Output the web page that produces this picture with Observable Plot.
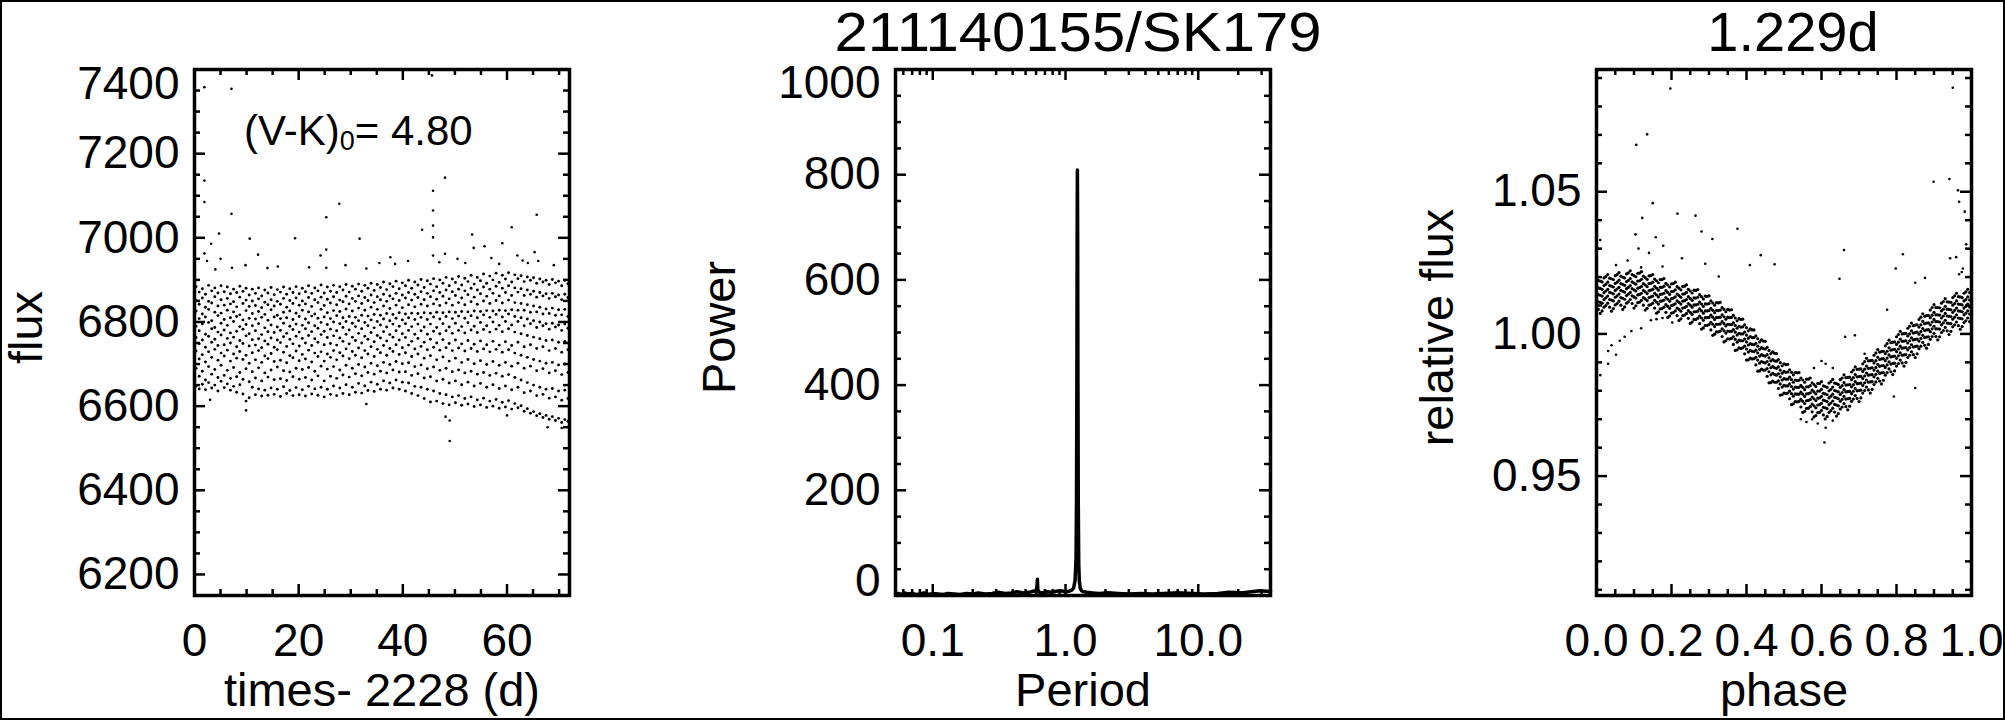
<!DOCTYPE html>
<html><head><meta charset="utf-8">
<script src="https://cdn.jsdelivr.net/npm/d3@7"></script>
<script src="https://cdn.jsdelivr.net/npm/@observablehq/plot@0.6"></script>
<style>
body{margin:0;background:#fff;}
#wrap{position:relative;width:2005px;height:720px;overflow:hidden;background:#fff;}
#wrap svg{position:absolute;top:0;overflow:visible;background:transparent;}
#border{position:absolute;left:0;top:0;width:2005px;height:720px;box-sizing:border-box;border:2px solid #000;pointer-events:none;z-index:5;}
</style></head><body>
<div id="wrap"><div id="border"></div></div>
<script>
// ---------------- DATA ----------------
const title2 = "211140155/SK179";
const title3 = "1.229d";
const vkLabel = "(V-K)0= 4.80";

// Panel 1: light curve (flux vs time - 2228 d); the dense band, read as streak columns
const p1ColTime = [0.3,0.9,1.5,2.1,2.7,3.3,3.9,4.5,5.1,5.7,6.3,6.9,7.5,8.1,8.7,9.3,9.9,10.5,11.1,11.7,12.3,12.9,13.5,14.1,14.7,15.3,15.9,16.5,17.1,17.7,18.3,18.9,19.5,20.1,20.7,21.3,21.9,22.5,23.1,23.7,24.3,24.9,25.5,26.1,26.7,27.3,27.9,28.5,29.1,29.7,30.3,30.9,31.5,32.1,32.7,33.3,33.9,34.5,35.1,35.7,36.3,36.9,37.5,38.1,38.7,39.3,39.9,40.5,41.1,41.7,42.3,42.9,43.5,44.1,44.7,45.3,45.9,46.5,47.1,47.7,48.3,48.9,49.5,50.1,50.7,51.3,51.9,52.5,53.1,53.7,54.3,54.9,55.5,56.1,56.7,57.3,57.9,58.5,59.1,59.7,60.3,60.9,61.5,62.1,62.7,63.3,63.9,64.5,65.1,65.7,66.3,66.9,67.5,68.1,68.7,69.3,69.9,70.5,71.1,71.7];
const p1ColFlux = [
[6884,6851,6826,6790,6763,6731,6690,6648],[6871,6842,6808,6779,6748,6712,6671,6641],[6879,6857,6819,6795,6757,6722,6683,6652],[6866,6835,6812,6771,6740,6705,6662,6639],[6887,6849,6830,6799,6766,6729,6694,6656],[6874,6845,6803,6784,6752,6716,6676,6643],[6881,6860,6823,6787,6759,6735,6687,6650],[6869,6838,6815,6776,6744,6709,6668,6636],[6886,6853,6821,6797,6769,6726,6697,6659],[6872,6840,6806,6781,6746,6719,6673,6644],
[6883,6856,6828,6792,6761,6733,6685,6653],[6867,6843,6810,6774,6750,6707,6666,6638],[6878,6848,6824,6801,6764,6724,6692,6647],[6870,6836,6813,6778,6741,6714,6670,6633],[6885,6859,6817,6789,6756,6730,6680,6651],[6873,6844,6805,6783,6749,6711,6664,6629],[6880,6852,6827,6794,6767,6721,6689,6612],[6864,6837,6809,6772,6743,6702,6658,6620],[6878,6850,6820,6791,6758,6727,6682,6645],[6868,6839,6807,6779,6745,6710,6667,6627],
[6881,6855,6825,6796,6760,6732,6691,6641],[6862,6834,6811,6770,6739,6704,6660,6624],[6876,6847,6818,6786,6755,6719,6679,6638],[6869,6841,6804,6777,6747,6713,6669,6626],[6882,6853,6829,6793,6762,6725,6686,6643],[6865,6838,6812,6775,6740,6706,6663,6628],[6877,6849,6816,6788,6757,6734,6693,6640],[6871,6842,6808,6780,6751,6709,6665,6623],[6883,6856,6823,6797,6765,6728,6684,6646],[6866,6835,6810,6773,6742,6703,6661,6630],
[6879,6851,6826,6790,6759,6720,6681,6637],[6870,6844,6806,6782,6748,6715,6670,6625],[6884,6857,6821,6795,6766,6731,6690,6644],[6867,6840,6813,6776,6743,6708,6664,6627],[6880,6850,6828,6792,6761,6723,6687,6639],[6872,6843,6807,6784,6750,6712,6668,6624],[6886,6858,6824,6798,6768,6733,6692,6647],[6868,6837,6814,6777,6744,6705,6662,6629],[6881,6853,6819,6791,6760,6726,6683,6641],[6874,6846,6809,6785,6752,6718,6672,6626],
[6888,6859,6830,6799,6770,6729,6695,6645],[6869,6839,6812,6778,6746,6707,6660,6622],[6883,6854,6822,6794,6763,6724,6688,6640],[6873,6845,6808,6783,6749,6716,6671,6628],[6887,6860,6827,6800,6767,6732,6694,6648],[6870,6841,6815,6779,6745,6710,6666,6625],[6884,6852,6825,6796,6762,6727,6686,6643],[6876,6848,6810,6787,6754,6719,6674,6630],[6889,6861,6831,6801,6771,6736,6697,6651],[6871,6843,6813,6781,6748,6713,6669,6627],
[6885,6856,6826,6797,6764,6730,6690,6645],[6878,6849,6811,6789,6756,6721,6677,6633],[6890,6862,6833,6803,6773,6738,6699,6654],[6873,6844,6816,6784,6750,6715,6672,6631],[6887,6858,6828,6799,6766,6732,6693,6648],[6880,6851,6814,6791,6759,6724,6680,6637],[6892,6864,6835,6805,6775,6741,6702,6657],[6875,6846,6818,6786,6753,6718,6676,6635],[6889,6860,6830,6801,6768,6735,6696,6652],[6882,6853,6816,6793,6762,6727,6683,6640],
[6895,6866,6838,6807,6777,6744,6704,6660],[6877,6849,6820,6788,6755,6721,6679,6638],[6891,6862,6832,6803,6770,6737,6699,6655],[6884,6855,6818,6795,6764,6730,6686,6643],[6897,6868,6840,6809,6779,6746,6706,6662],[6879,6851,6822,6790,6757,6723,6681,6640],[6893,6864,6834,6805,6772,6739,6701,6657],[6886,6857,6819,6796,6763,6727,6682,6636],[6899,6870,6841,6810,6780,6745,6703,6655],[6880,6852,6821,6789,6754,6718,6673,6630],
[6895,6866,6836,6806,6771,6736,6694,6647],[6888,6858,6820,6795,6761,6724,6677,6625],[6901,6872,6842,6811,6779,6742,6698,6645],[6882,6853,6822,6788,6752,6714,6667,6618],[6898,6868,6838,6806,6771,6734,6689,6640],[6890,6860,6821,6795,6759,6720,6670,6610],[6903,6874,6843,6812,6778,6740,6693,6636],[6884,6854,6823,6787,6750,6710,6660,6612],[6900,6870,6839,6807,6772,6733,6685,6630],[6892,6861,6822,6796,6758,6717,6664,6606],
[6906,6876,6845,6813,6779,6739,6690,6627],[6886,6855,6824,6788,6749,6707,6655,6603],[6902,6872,6840,6808,6773,6732,6682,6622],[6894,6863,6823,6797,6757,6714,6660,6608],[6908,6878,6846,6814,6780,6738,6686,6625],[6888,6857,6825,6789,6748,6704,6651,6602],[6904,6874,6841,6809,6774,6731,6679,6618],[6896,6865,6824,6798,6756,6711,6657,6605],[6911,6880,6848,6815,6781,6737,6683,6622],[6890,6859,6826,6790,6747,6701,6648,6599],
[6906,6876,6842,6810,6775,6730,6676,6615],[6898,6867,6825,6799,6755,6708,6654,6603],[6914,6883,6850,6817,6782,6736,6680,6619],[6892,6861,6827,6791,6746,6699,6645,6597],[6909,6878,6844,6811,6776,6729,6673,6612],[6900,6868,6826,6800,6754,6706,6651,6600],[6916,6885,6851,6818,6783,6735,6678,6616],[6894,6862,6828,6792,6745,6697,6642,6595],[6911,6880,6845,6812,6777,6728,6671,6609],[6902,6870,6827,6801,6753,6704,6648,6598],
[6917,6886,6852,6819,6784,6734,6675,6613],[6895,6863,6829,6793,6744,6695,6639,6593],[6912,6881,6846,6813,6776,6726,6668,6606],[6903,6871,6828,6801,6752,6702,6645,6596],[6910,6879,6844,6810,6772,6721,6662,6601],[6896,6863,6828,6791,6741,6690,6632,6588],[6907,6876,6841,6807,6768,6716,6656,6594],[6899,6866,6823,6796,6746,6695,6636,6583],[6905,6873,6838,6803,6764,6711,6650,6587],[6892,6859,6824,6787,6737,6684,6625,6577],
[6902,6870,6835,6800,6760,6707,6645,6582],[6895,6862,6819,6791,6741,6689,6628,6573],[6899,6867,6831,6796,6756,6702,6640,6578],[6889,6856,6820,6783,6732,6679,6619,6569],[6901,6868,6833,6797,6757,6704,6642,6575],[6893,6860,6816,6788,6737,6684,6622,6566],[6897,6864,6829,6793,6752,6698,6636,6571],[6886,6853,6817,6780,6728,6675,6614,6561],[6899,6866,6830,6795,6754,6700,6638,6568],[6891,6858,6813,6785,6734,6680,6618,6564]
];
// Panel 1: isolated points outside the band
const p1OutTime = [1.9,7.1,1.9,1.9,7.1,3.2,4.7,1.9,10.6,12.2,7.2,19.3,25.3,27.8,25.3,24.2,25.3,31.7,33.0,37.6,43.7,45.8,45.8,45.8,45.8,45.8,48.1,48.1,53.3,53.6,55.7,59.1,60.9,63.0,65.7,65.3,45.6,49.0,49.0,2.4,5.0,9.8,16.0,29.0,35.5,41.0,50.5,57.0,62.0,66.0,69.0,4.0,14.0,22.0,38.5,47.0,52.0,58.5,64.0,3.0,9.9,33.0,48.2,60.0,70.5,67.8];
const p1OutFlux = [7358,7354,7136,7085,7057,6986,7010,6963,6998,6960,6929,6999,7049,7081,6972,6958,6929,6998,6927,6954,7019,7112,7065,7029,7001,6958,7143,6962,7008,6976,6980,6987,7025,6946,7055,6966,7386,6566,6517,6945,6950,6935,6932,6935,6940,6945,6950,6952,6958,6945,6935,6925,6928,6930,6938,6942,6940,6938,6940,6615,6590,6605,6575,6578,6548,6550];

// Panel 2: periodogram
const p2Period = [0.0524,0.055,0.058,0.061,0.065,0.07,0.075,0.08,0.086,0.093,0.1,0.11,0.12,0.13,0.145,0.16,0.18,0.2,0.22,0.25,0.28,0.31,0.35,0.39,0.43,0.48,0.53,0.57,0.6,0.61,0.614,0.618,0.63,0.67,0.72,0.78,0.85,0.92,1.0,1.06,1.11,1.15,1.18,1.2,1.21,1.218,1.224,1.229,1.234,1.24,1.248,1.258,1.27,1.29,1.32,1.37,1.45,1.6,1.8,2.1,2.5,3.0,3.7,4.5,5.5,7,9,11,14,17,21,25,29,33,35];
const p2Power = [3,4,2,5,3,4,2,3,5,2, 4,3,2,4,3,2,4,3,5,3, 4,6,4,5,7,5,6,8,9,18, 31,12,6,5,7,6,8,9,7,8, 10,14,28,70,180,420,700,809,690,420, 170,60,28,14,9,7,6,5,4,5, 4,3,4,3,4,5,4,3,4,6, 5,7,9,8,7];

// Panel 3: phase-folded light curve, the band read as two interleaved sets of columns
const p3ColPhase = [0.005,0.015,0.025,0.035,0.045,0.055,0.065,0.075,0.085,0.095,0.105,0.115,0.125,0.135,0.145,0.155,0.165,0.175,0.185,0.195,0.205,0.215,0.225,0.235,0.245,0.255,0.265,0.275,0.285,0.295,0.305,0.315,0.325,0.335,0.345,0.355,0.365,0.375,0.385,0.395,0.405,0.415,0.425,0.435,0.445,0.455,0.465,0.475,0.485,0.495,0.505,0.515,0.525,0.535,0.545,0.555,0.565,0.575,0.585,0.595,0.605,0.615,0.625,0.635,0.645,0.655,0.665,0.675,0.685,0.695,0.705,0.715,0.725,0.735,0.745,0.755,0.765,0.775,0.785,0.795,0.805,0.815,0.825,0.835,0.845,0.855,0.865,0.875,0.885,0.895,0.905,0.915,0.925,0.935,0.945,0.955,0.965,0.975,0.985,0.995];
const p3ColFlux = [
[1.0188,1.0162,1.0138,1.0113,1.0086],[1.0183,1.0157,1.0133,1.0108,1.0081],[1.0202,1.0175,1.0151,1.0127,1.0100],[1.0196,1.0170,1.0146,1.0121,1.0094],[1.0191,1.0165,1.0141,1.0116,1.0089],[1.0209,1.0182,1.0158,1.0134,1.0107],[1.0203,1.0177,1.0153,1.0128,1.0101],[1.0197,1.0171,1.0147,1.0122,1.0095],[1.0215,1.0188,1.0164,1.0140,1.0113],[1.0209,1.0183,1.0159,1.0134,1.0107],
[1.0201,1.0175,1.0151,1.0126,1.0099],[1.0214,1.0187,1.0163,1.0139,1.0112],[1.0203,1.0177,1.0153,1.0128,1.0101],[1.0192,1.0166,1.0142,1.0117,1.0090],[1.0205,1.0178,1.0154,1.0130,1.0103],[1.0193,1.0167,1.0143,1.0118,1.0091],[1.0180,1.0154,1.0130,1.0105,1.0078],[1.0191,1.0164,1.0140,1.0116,1.0089],[1.0178,1.0152,1.0128,1.0103,1.0076],[1.0165,1.0139,1.0115,1.0090,1.0063],
[1.0177,1.0150,1.0126,1.0102,1.0075],[1.0166,1.0140,1.0116,1.0091,1.0064],[1.0155,1.0129,1.0105,1.0080,1.0053],[1.0168,1.0141,1.0117,1.0093,1.0066],[1.0157,1.0131,1.0107,1.0082,1.0055],[1.0144,1.0118,1.0094,1.0069,1.0042],[1.0153,1.0126,1.0102,1.0078,1.0051],[1.0138,1.0112,1.0088,1.0063,1.0036],[1.0123,1.0097,1.0073,1.0048,1.0021],[1.0132,1.0105,1.0081,1.0057,1.0030],
[1.0116,1.0090,1.0066,1.0041,1.0014],[1.0101,1.0075,1.0051,1.0026,0.9999],[1.0109,1.0082,1.0058,1.0034,1.0007],[1.0093,1.0067,1.0043,1.0018,0.9991],[1.0078,1.0052,1.0028,1.0003,0.9976],[1.0084,1.0057,1.0033,1.0009,0.9982],[1.0065,1.0039,1.0015,0.9990,0.9963],[1.0046,1.0020,0.9996,0.9971,0.9944],[1.0051,1.0024,1.0000,0.9976,0.9949],[1.0032,1.0006,0.9982,0.9957,0.9930],
[1.0011,0.9985,0.9961,0.9936,0.9909],[1.0014,0.9987,0.9963,0.9939,0.9912],[0.9993,0.9967,0.9943,0.9918,0.9891],[0.9972,0.9946,0.9922,0.9897,0.9870],[0.9975,0.9948,0.9924,0.9900,0.9873],[0.9953,0.9927,0.9903,0.9878,0.9851],[0.9931,0.9905,0.9881,0.9856,0.9829],[0.9932,0.9905,0.9881,0.9857,0.9830],[0.9910,0.9884,0.9860,0.9835,0.9808],[0.9888,0.9862,0.9838,0.9813,0.9786],
[0.9892,0.9865,0.9841,0.9817,0.9790],[0.9874,0.9848,0.9824,0.9799,0.9772],[0.9856,0.9830,0.9806,0.9781,0.9754],[0.9863,0.9836,0.9812,0.9788,0.9761],[0.9845,0.9819,0.9795,0.9770,0.9743],[0.9830,0.9804,0.9780,0.9755,0.9728],[0.9841,0.9814,0.9790,0.9766,0.9739],[0.9828,0.9802,0.9778,0.9753,0.9726],[0.9815,0.9789,0.9765,0.9740,0.9713],[0.9826,0.9799,0.9775,0.9751,0.9724],
[0.9817,0.9791,0.9767,0.9742,0.9715],[0.9812,0.9786,0.9762,0.9737,0.9710],[0.9832,0.9805,0.9781,0.9757,0.9730],[0.9827,0.9801,0.9777,0.9752,0.9725],[0.9822,0.9796,0.9772,0.9747,0.9720],[0.9845,0.9818,0.9794,0.9770,0.9743],[0.9846,0.9820,0.9796,0.9771,0.9744],[0.9848,0.9822,0.9798,0.9773,0.9746],[0.9873,0.9846,0.9822,0.9798,0.9771],[0.9875,0.9849,0.9825,0.9800,0.9773],
[0.9877,0.9851,0.9827,0.9802,0.9775],[0.9903,0.9876,0.9852,0.9828,0.9801],[0.9905,0.9879,0.9855,0.9830,0.9803],[0.9907,0.9881,0.9857,0.9832,0.9805],[0.9933,0.9906,0.9882,0.9858,0.9831],[0.9936,0.9910,0.9886,0.9861,0.9834],[0.9939,0.9913,0.9889,0.9864,0.9837],[0.9966,0.9939,0.9915,0.9891,0.9864],[0.9969,0.9943,0.9919,0.9894,0.9867],[0.9972,0.9946,0.9922,0.9897,0.9870],
[0.9998,0.9971,0.9947,0.9923,0.9896],[1.0000,0.9974,0.9950,0.9925,0.9898],[1.0002,0.9976,0.9952,0.9927,0.9900],[1.0027,1.0000,0.9976,0.9952,0.9925],[1.0029,1.0003,0.9979,0.9954,0.9927],[1.0032,1.0006,0.9982,0.9957,0.9930],[1.0059,1.0032,1.0008,0.9984,0.9957],[1.0062,1.0036,1.0012,0.9987,0.9960],[1.0065,1.0039,1.0015,0.9990,0.9963],[1.0093,1.0066,1.0042,1.0018,0.9991],
[1.0093,1.0067,1.0043,1.0018,0.9991],[1.0092,1.0066,1.0042,1.0017,0.9990],[1.0114,1.0087,1.0063,1.0039,1.0012],[1.0113,1.0087,1.0063,1.0038,1.0011],[1.0111,1.0085,1.0061,1.0036,1.0009],[1.0134,1.0107,1.0083,1.0059,1.0032],[1.0131,1.0105,1.0081,1.0056,1.0029],[1.0128,1.0102,1.0078,1.0053,1.0026],[1.0148,1.0121,1.0097,1.0073,1.0046],[1.0145,1.0119,1.0095,1.0070,1.0043]
];
const p3ColPhase2 = [0.00,0.01,0.02,0.03,0.04,0.05,0.06,0.07,0.08,0.09,0.10,0.11,0.12,0.13,0.14,0.15,0.16,0.17,0.18,0.19,0.20,0.21,0.22,0.23,0.24,0.25,0.26,0.27,0.28,0.29,0.30,0.31,0.32,0.33,0.34,0.35,0.36,0.37,0.38,0.39,0.40,0.41,0.42,0.43,0.44,0.45,0.46,0.47,0.48,0.49,0.50,0.51,0.52,0.53,0.54,0.55,0.56,0.57,0.58,0.59,0.60,0.61,0.62,0.63,0.64,0.65,0.66,0.67,0.68,0.69,0.70,0.71,0.72,0.73,0.74,0.75,0.76,0.77,0.78,0.79,0.80,0.81,0.82,0.83,0.84,0.85,0.86,0.87,0.88,0.89,0.90,0.91,0.92,0.93,0.94,0.95,0.96,0.97,0.98,0.99];
const p3ColFlux2 = [
[1.0200,1.0173,1.0148,1.0124,1.0099],[1.0186,1.0160,1.0136,1.0111,1.0072],[1.0197,1.0170,1.0145,1.0121,1.0094],[1.0209,1.0182,1.0157,1.0133,1.0108],[1.0194,1.0168,1.0144,1.0119,1.0080],[1.0205,1.0178,1.0153,1.0129,1.0102],[1.0216,1.0189,1.0164,1.0140,1.0115],[1.0200,1.0174,1.0150,1.0125,1.0086],[1.0211,1.0184,1.0159,1.0135,1.0108],[1.0222,1.0195,1.0170,1.0146,1.0121],
[1.0205,1.0179,1.0155,1.0130,1.0091],[1.0213,1.0186,1.0161,1.0137,1.0110],[1.0219,1.0192,1.0167,1.0143,1.0118],[1.0198,1.0172,1.0148,1.0123,1.0084],[1.0204,1.0177,1.0152,1.0128,1.0101],[1.0209,1.0182,1.0157,1.0133,1.0108],[1.0187,1.0161,1.0137,1.0112,1.0073],[1.0191,1.0164,1.0139,1.0115,1.0088],[1.0195,1.0168,1.0143,1.0119,1.0094],[1.0172,1.0146,1.0122,1.0097,1.0058],
[1.0176,1.0149,1.0124,1.0100,1.0073],[1.0182,1.0155,1.0130,1.0106,1.0081],[1.0161,1.0135,1.0111,1.0086,1.0047],[1.0167,1.0140,1.0115,1.0091,1.0064],[1.0173,1.0146,1.0121,1.0097,1.0072],[1.0151,1.0125,1.0101,1.0076,1.0037],[1.0154,1.0127,1.0102,1.0078,1.0051],[1.0156,1.0129,1.0104,1.0080,1.0055],[1.0131,1.0105,1.0081,1.0056,1.0017],[1.0133,1.0106,1.0081,1.0057,1.0030],
[1.0134,1.0107,1.0082,1.0058,1.0033],[1.0109,1.0083,1.0059,1.0034,0.9995],[1.0110,1.0083,1.0058,1.0034,1.0007],[1.0111,1.0084,1.0059,1.0035,1.0010],[1.0086,1.0060,1.0036,1.0011,0.9972],[1.0086,1.0059,1.0034,1.0010,0.9983],[1.0085,1.0058,1.0033,1.0009,0.9984],[1.0056,1.0030,1.0006,0.9981,0.9942],[1.0054,1.0027,1.0002,0.9978,0.9951],[1.0052,1.0025,1.0000,0.9976,0.9951],
[1.0022,0.9996,0.9972,0.9947,0.9908],[1.0018,0.9991,0.9966,0.9942,0.9915],[1.0014,0.9987,0.9962,0.9938,0.9913],[0.9983,0.9957,0.9933,0.9908,0.9869],[0.9979,0.9952,0.9927,0.9903,0.9876],[0.9974,0.9947,0.9922,0.9898,0.9873],[0.9942,0.9916,0.9892,0.9867,0.9828],[0.9937,0.9910,0.9885,0.9861,0.9834],[0.9931,0.9904,0.9879,0.9855,0.9830],[0.9899,0.9873,0.9849,0.9824,0.9785],
[0.9895,0.9868,0.9843,0.9819,0.9792],[0.9893,0.9866,0.9841,0.9817,0.9792],[0.9865,0.9839,0.9815,0.9790,0.9751],[0.9865,0.9838,0.9813,0.9789,0.9762],[0.9864,0.9837,0.9812,0.9788,0.9763],[0.9838,0.9812,0.9788,0.9763,0.9724],[0.9841,0.9814,0.9789,0.9765,0.9738],[0.9845,0.9818,0.9793,0.9769,0.9744],[0.9822,0.9796,0.9772,0.9747,0.9708],[0.9826,0.9799,0.9774,0.9750,0.9723],
[0.9832,0.9805,0.9780,0.9756,0.9731],[0.9815,0.9789,0.9765,0.9740,0.9701],[0.9827,0.9800,0.9775,0.9751,0.9724],[0.9840,0.9813,0.9788,0.9764,0.9739],[0.9825,0.9799,0.9775,0.9750,0.9711],[0.9839,0.9812,0.9787,0.9763,0.9736],[0.9856,0.9829,0.9804,0.9780,0.9755],[0.9847,0.9821,0.9797,0.9772,0.9733],[0.9866,0.9839,0.9814,0.9790,0.9763],[0.9884,0.9857,0.9832,0.9808,0.9783],
[0.9876,0.9850,0.9826,0.9801,0.9762],[0.9895,0.9868,0.9843,0.9819,0.9792],[0.9914,0.9887,0.9862,0.9838,0.9813],[0.9906,0.9880,0.9856,0.9831,0.9792],[0.9925,0.9898,0.9873,0.9849,0.9822],[0.9945,0.9918,0.9893,0.9869,0.9844],[0.9938,0.9912,0.9888,0.9863,0.9824],[0.9958,0.9931,0.9906,0.9882,0.9855],[0.9978,0.9951,0.9926,0.9902,0.9877],[0.9971,0.9945,0.9921,0.9896,0.9857],
[0.9990,0.9963,0.9938,0.9914,0.9887],[1.0009,0.9982,0.9957,0.9933,0.9908],[1.0001,0.9975,0.9951,0.9926,0.9887],[1.0020,0.9993,0.9968,0.9944,0.9917],[1.0038,1.0011,0.9986,0.9962,0.9937],[1.0031,1.0005,0.9981,0.9956,0.9917],[1.0051,1.0024,0.9999,0.9975,0.9948],[1.0071,1.0044,1.0019,0.9995,0.9970],[1.0064,1.0038,1.0014,0.9989,0.9950],[1.0084,1.0057,1.0032,1.0008,0.9981],
[1.0103,1.0076,1.0051,1.0027,1.0002],[1.0093,1.0067,1.0043,1.0018,0.9979],[1.0108,1.0081,1.0056,1.0032,1.0005],[1.0124,1.0097,1.0072,1.0048,1.0023],[1.0112,1.0086,1.0062,1.0037,0.9998],[1.0128,1.0101,1.0076,1.0052,1.0025],[1.0143,1.0116,1.0091,1.0067,1.0042],[1.0130,1.0104,1.0080,1.0055,1.0016],[1.0143,1.0116,1.0091,1.0067,1.0040],[1.0157,1.0130,1.0105,1.0081,1.0056]
];
// Panel 3: scattered points off the main band
const p3OutPhase = [0.197,0.135,0.106,0.150,0.122,0.216,0.264,0.104,0.158,0.280,0.309,0.376,0.178,0.112,0.140,0.438,0.475,0.660,0.648,0.817,0.798,0.850,0.876,0.775,0.950,0.941,0.899,0.964,0.967,0.982,0.986,0.959,0.977,0.967,0.010,0.010,0.031,0.052,0.062,0.093,0.119,0.145,0.176,0.202,0.031,0.040,0.075,0.160,0.608,0.560,0.611,0.575,0.545,0.590,0.630,0.611,0.630,0.663,0.689,0.715,0.580,0.600,0.793,0.850,0.052,0.083,0.119,0.176,0.228,0.290,0.326,0.409,0.943,0.974];
const p3OutFlux = [1.0863,1.0702,1.0665,1.0460,1.0408,1.0423,1.0416,1.0350,1.0340,1.0360,1.0334,1.0370,1.0310,1.0300,1.0285,1.0277,1.0245,1.0295,1.0194,1.0280,1.0230,1.0180,1.0197,1.0085,1.0866,1.0545,1.0535,1.0505,1.0465,1.0430,1.0315,1.0270,1.0230,1.0210,1.0330,0.9855,0.9895,0.9927,0.9976,1.0010,1.0020,1.0048,1.0056,1.0040,0.9940,0.9960,0.9990,1.0052,0.9618,0.9690,0.9670,0.9700,0.9700,0.9685,0.9695,0.9895,0.9880,0.9990,0.9995,0.9930,0.9880,0.9905,0.9780,0.9810,1.0242,1.0258,1.0234,1.0237,1.0266,1.0247,1.0202,1.0242,1.0266,1.0218];

// Axis ticks and tick labels
const p1XMajor = [0,20,40,60], p1XLabels = ["0","20","40","60"];
const p1XMinor = [5,10,15,25,30,35,45,50,55,65,70];
const p1YMajor = [6200,6400,6600,6800,7000,7200,7400], p1YLabels = ["6200","6400","6600","6800","7000","7200","7400"];
const p1YMinor = [6250,6300,6350,6450,6500,6550,6650,6700,6750,6850,6900,6950,7050,7100,7150,7250,7300,7350];
const p2XMajor = [0.1,1,10], p2XLabels = ["0.1","1.0","10.0"];
const p2XMinor = [0.06,0.07,0.08,0.09,0.2,0.3,0.4,0.5,0.6,0.7,0.8,0.9,2,3,4,5,6,7,8,9,20,30];
const p2YMajor = [0,200,400,600,800,1000], p2YLabels = ["0","200","400","600","800","1000"];
const p2YMinor = [50,100,150,250,300,350,450,500,550,650,700,750,850,900,950];
const p3XMajor = [0,0.2,0.4,0.6,0.8,1.0], p3XLabels = ["0.0","0.2","0.4","0.6","0.8","1.0"];
const p3XMinor = [0.05,0.1,0.15,0.25,0.3,0.35,0.45,0.5,0.55,0.65,0.7,0.75,0.85,0.9,0.95];
const p3YMajor = [0.95,1.00,1.05], p3YLabels = ["0.95","1.00","1.05"];
const p3YMinor = [0.91,0.92,0.93,0.94,0.96,0.97,0.98,0.99,1.01,1.02,1.03,1.04,1.06,1.07,1.08,1.09];

// ---------------- DRAWING ----------------
const wrap = document.getElementById("wrap");
const FONT = '"Liberation Sans", Arial, Helvetica, sans-serif';
const H = 720, MT = 69, MB = 125, IH = H - MT - MB;
const TL = 11, TS = 6, TW = 2.5, FW = 3.5;
const TICKFS = 46, TITLEFS = 47, HEADFS = 56;

function box(xMaj, xMin, yMaj, yMin, IW) {
  const m = [];
  for (const [vals, len] of [[xMaj, TL], [xMin, TS]]) {
    m.push(Plot.tickX(vals, {x: d => d, insetTop: IH - len, strokeWidth: TW}));
    m.push(Plot.tickX(vals, {x: d => d, insetBottom: IH - len, strokeWidth: TW}));
  }
  for (const [vals, len] of [[yMaj, TL], [yMin, TS]]) {
    m.push(Plot.tickY(vals, {y: d => d, insetRight: IW - len, strokeWidth: TW}));
    m.push(Plot.tickY(vals, {y: d => d, insetLeft: IW - len, strokeWidth: TW}));
  }
  m.push(Plot.frame({strokeWidth: FW}));
  return m;
}
function xLabels(vals, labels) {
  return Plot.axisX(vals, {anchor: "bottom", tickSize: 0, tickPadding: 28, fontSize: TICKFS,
    tickFormat: d => labels[vals.indexOf(d)], label: null});
}
function yLabels(vals, all, labels, dy) {
  return Plot.axisY(vals, {anchor: "left", tickSize: 0, tickPadding: 15, fontSize: TICKFS, dy,
    tickFormat: d => labels[all.indexOf(d)], label: null});
}
function xTitle(s) {
  return Plot.text([s], {frameAnchor: "bottom", dy: 95, fontSize: TITLEFS, lineAnchor: "middle", textAnchor: "middle", text: d => d});
}
function yTitle(s, dx) {
  return Plot.text([s], {frameAnchor: "left", dx, dy: -5, rotate: -90, fontSize: TITLEFS, lineAnchor: "middle", textAnchor: "middle", text: d => d});
}
function head(s, dx) {
  return Plot.text([s], {frameAnchor: "top", dy: -36, dx, fontSize: HEADFS, lineAnchor: "middle", textAnchor: "middle", text: d => d});
}
function place(svg, left) {
  svg.style.position = "absolute"; svg.style.left = left + "px"; svg.style.top = "0px";
  wrap.appendChild(svg);
  return svg;
}
function findText(svg, s) {
  return [...svg.querySelectorAll("text")].find(t => t.textContent === s);
}
const common = {height: H, marginTop: MT, marginBottom: MB,
  style: {fontFamily: FONT, background: "transparent", overflow: "visible", color: "black"}};
const dotOpts = (x, y, r) => ({x, y, r, fill: "black", stroke: "none"});

// Panel 1
const p1Data = p1ColTime.flatMap((t, i) => p1ColFlux[i].map(f => ({t, f})));
const p1Out = p1OutTime.map((t, i) => ({t, f: p1OutFlux[i]}));
const svg1 = Plot.plot({...common, width: 600, marginLeft: 194, marginRight: 31,
  x: {domain: [0, 72]}, y: {domain: [6150, 7400]},
  marks: [
    Plot.dot(p1Data, dotOpts("t", "f", 1.45)),
    Plot.dot(p1Out, dotOpts("t", "f", 1.3)),
    Plot.text([{t: 9.5, f: 7252, s: vkLabel}], {x: "t", y: "f", text: "s", textAnchor: "start", lineAnchor: "middle", fontSize: 42}),
    ...box(p1XMajor, p1XMinor, p1YMajor, p1YMinor, 375),
    xLabels(p1XMajor, p1XLabels),
    yLabels(p1YMajor.filter(v => v !== 7400), p1YMajor, p1YLabels, 0),
    yLabels([7400], p1YMajor, p1YLabels, 15),
    xTitle("times- 2228 (d)"),
    yTitle("flux", -168)
  ]});
place(svg1, 0);
{
  const t = findText(svg1, vkLabel);
  if (t) {
    const NS = "http://www.w3.org/2000/svg";
    t.textContent = "";
    const a = document.createElementNS(NS, "tspan"); a.textContent = "(V-K)";
    const b = document.createElementNS(NS, "tspan"); b.textContent = "0"; b.setAttribute("font-size", "27"); b.setAttribute("dy", "5");
    const c = document.createElementNS(NS, "tspan"); c.textContent = "= 4.80"; c.setAttribute("dy", "-5");
    t.append(a, b, c);
  }
}

// Panel 2
const p2Data = p2Period.map((p, i) => ({p, w: p2Power[i]}));
const svg2 = Plot.plot({...common, width: 680, marginLeft: 275, marginRight: 30,
  x: {type: "log", domain: [0.0524, 35]}, y: {domain: [0, 1000]},
  marks: [
    Plot.line(p2Data, {x: "p", y: "w", stroke: "black", strokeWidth: 3.5}),
    ...box(p2XMajor, p2XMinor, p2YMajor, p2YMinor, 375),
    xLabels(p2XMajor, p2XLabels),
    yLabels([200, 400, 600, 800], p2YMajor, p2YLabels, 0),
    yLabels([1000], p2YMajor, p2YLabels, 14),
    yLabels([0], p2YMajor, p2YLabels, -14),
    head(title2, -5),
    xTitle("Period"),
    yTitle("Power", -176)
  ]});
place(svg2, 620);
{
  const t = findText(svg2, title2);
  if (t) { t.setAttribute("textLength", "487"); t.setAttribute("lengthAdjust", "spacingAndGlyphs"); }
}

// Panel 3
const p3Data = [
  ...p3ColPhase.flatMap((ph, i) => p3ColFlux[i].map(f => ({ph, f}))),
  ...p3ColPhase2.flatMap((ph, i) => p3ColFlux2[i].map(f => ({ph, f})))
];
const p3Out = p3OutPhase.map((ph, i) => ({ph, f: p3OutFlux[i]}));
const svg3 = Plot.plot({...common, width: 685, marginLeft: 276, marginRight: 34,
  x: {domain: [0, 1]}, y: {domain: [0.908, 1.093]},
  marks: [
    Plot.dot(p3Data, dotOpts("ph", "f", 1.6)),
    Plot.dot(p3Out, dotOpts("ph", "f", 1.3)),
    ...box(p3XMajor, p3XMinor, p3YMajor, p3YMinor, 375),
    xLabels(p3XMajor, p3XLabels),
    yLabels(p3YMajor, p3YMajor, p3YLabels, 0),
    head(title3, 9),
    xTitle("phase"),
    yTitle("relative flux", -159)
  ]});
place(svg3, 1320);
</script>
</body></html>
